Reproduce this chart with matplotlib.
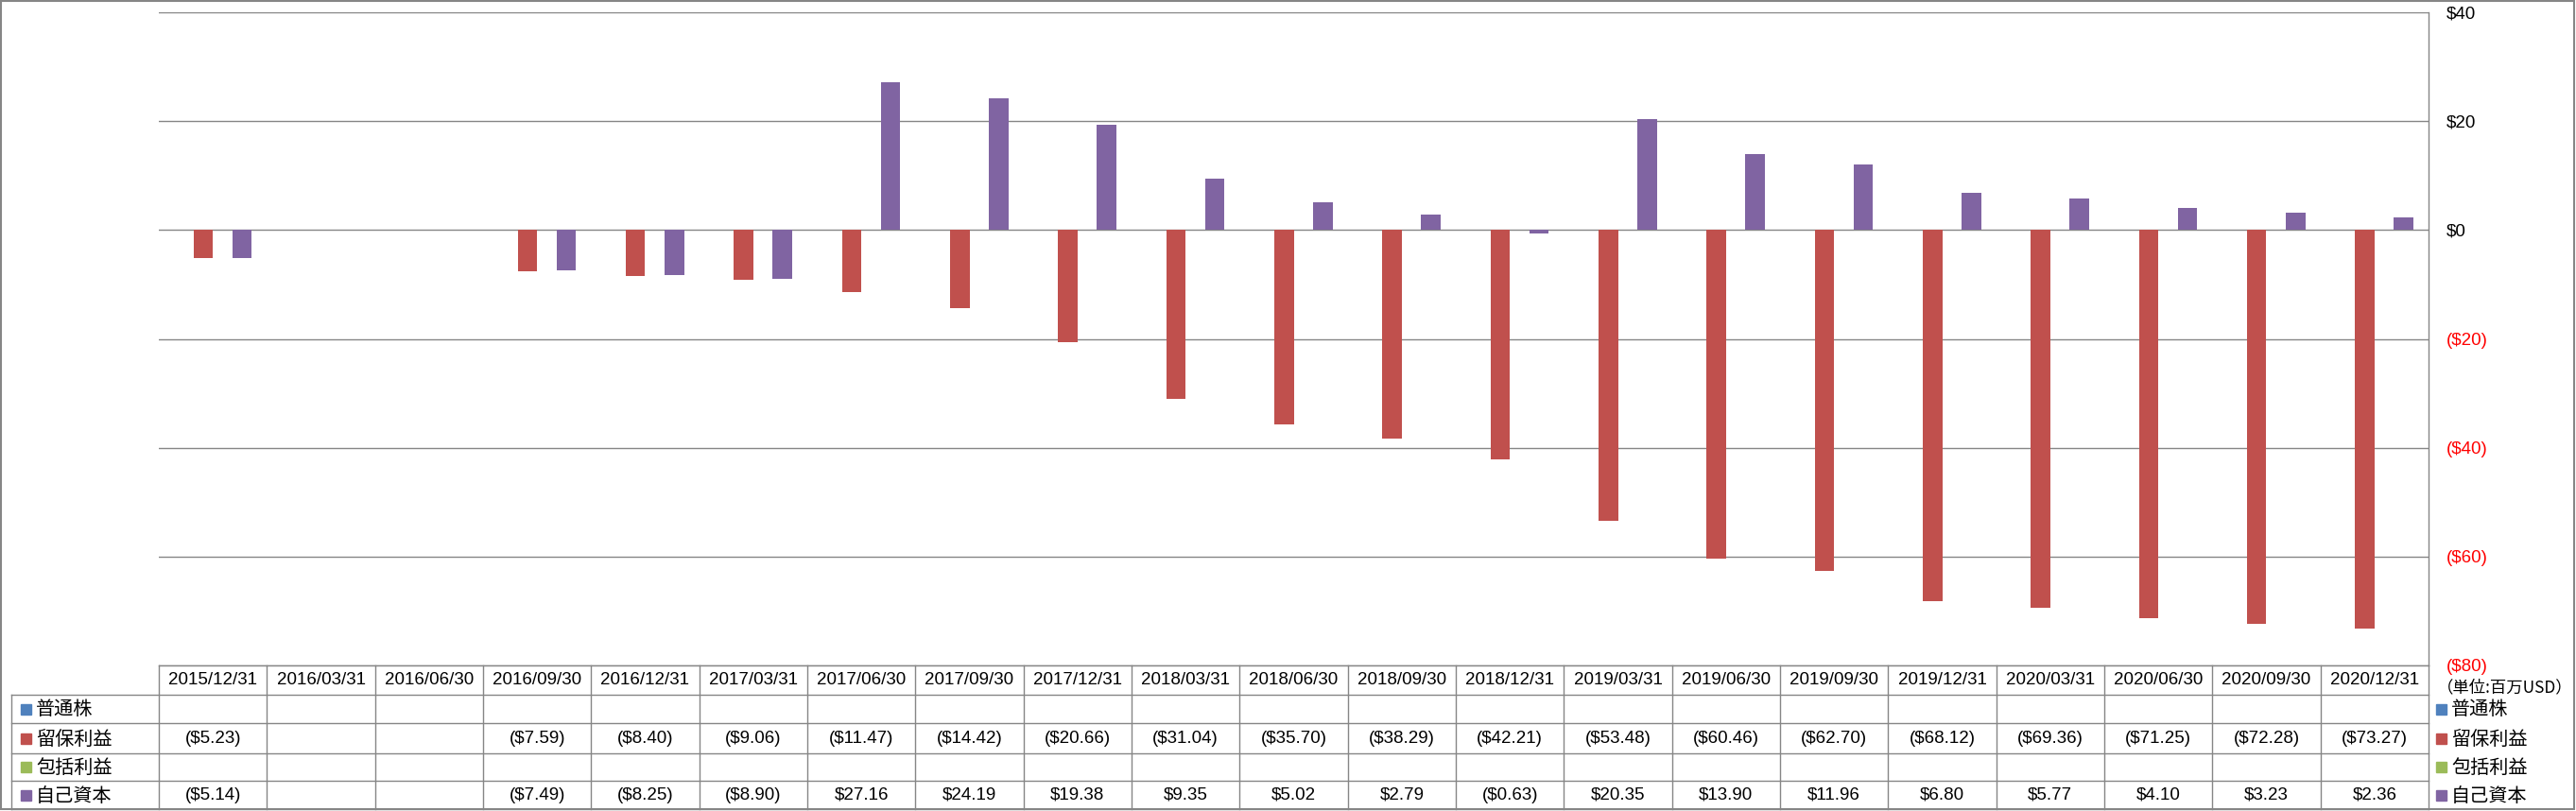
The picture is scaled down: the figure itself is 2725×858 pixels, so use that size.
import numpy as np
import matplotlib.pyplot as plt
from matplotlib.transforms import blended_transform_factory
from matplotlib.patches import Rectangle

# データ（単位: 百万USD）
dates = ["2015/12/31", "2016/03/31", "2016/06/30", "2016/09/30", "2016/12/31",
         "2017/03/31", "2017/06/30", "2017/09/30", "2017/12/31", "2018/03/31",
         "2018/06/30", "2018/09/30", "2018/12/31", "2019/03/31", "2019/06/30",
         "2019/09/30", "2019/12/31", "2020/03/31", "2020/06/30", "2020/09/30",
         "2020/12/31"]
nan = np.nan
common_stock = [nan] * 21
retained_earnings = [-5.23, nan, nan, -7.59, -8.40, -9.06, -11.47, -14.42, -20.66,
                     -31.04, -35.70, -38.29, -42.21, -53.48, -60.46, -62.70, -68.12,
                     -69.36, -71.25, -72.28, -73.27]
comprehensive_income = [nan] * 21
equity = [-5.14, nan, nan, -7.49, -8.25, -8.90, 27.16, 24.19, 19.38, 9.35, 5.02,
          2.79, -0.63, 20.35, 13.90, 11.96, 6.80, 5.77, 4.10, 3.23, 2.36]

series_names = ["普通株", "留保利益", "包括利益", "自己資本"]
series_values = [common_stock, retained_earnings, comprehensive_income, equity]
series_colors = ["#4F81BD", "#C0504D", "#9BBB59", "#8064A2"]
y_ticks = [-80, -60, -40, -20, 0, 20, 40]

NUM_FONT = ["Liberation Sans", "DejaVu Sans"]
CJK_FONT = ["Noto Sans CJK JP", "DejaVu Sans"]
GRAY = "#868686"


def money(v, digits=2):
    if np.isnan(v):
        return ""
    s = "${:,.{}f}".format(abs(v), digits)
    return "(" + s + ")" if v < 0 else s


# 図のサイズ（ピクセル単位で配置）
W, H = 2725, 858
fig = plt.figure(figsize=(W / 100, H / 100), dpi=100)
fig.patch.set_facecolor("white")

left_px, right_px, top_px, bottom_px = 168, 2569, 13, 704
ax = fig.add_axes([left_px / W, 1 - bottom_px / H,
                   (right_px - left_px) / W, (bottom_px - top_px) / H])

# 棒グラフ
x = np.arange(len(dates))
bar_w = 0.18
for k, (vals, col) in enumerate(zip(series_values, series_colors)):
    ax.bar(x + (k - 1.5) * bar_w, vals, width=bar_w, color=col, zorder=3)

ax.set_xlim(-0.5, len(dates) - 0.5)
ax.set_ylim(-80, 40)
ax.set_xticks([])
ax.yaxis.tick_right()
ax.set_yticks(y_ticks)
ax.set_yticklabels([money(t, 0) for t in y_ticks], family=NUM_FONT, fontsize=13.5)
for lab, t in zip(ax.get_yticklabels(), y_ticks):
    lab.set_color("red" if t < 0 else "black")
ax.tick_params(axis="y", length=0, pad=13.5)
ax.grid(axis="y", color=GRAY, linewidth=1.0)
ax.set_axisbelow(True)
for side in ["top", "left", "bottom"]:
    ax.spines[side].set_visible(False)
ax.spines["right"].set_color(GRAY)
ax.spines["right"].set_linewidth(1.0)

# 表・凡例用のオーバーレイ（ピクセル座標）
ov = fig.add_axes([0, 0, 1, 1], facecolor="none")
ov.set_xlim(0, W)
ov.set_ylim(H, 0)
ov.axis("off")
tr = blended_transform_factory(ax.transData, ov.transData)

row_edges = [704, 735, 765, 797, 826, 856]
legend_left = 12
lw_tab = 1.0

# 横線
ov.plot([left_px, right_px], [row_edges[0]] * 2, color=GRAY, lw=lw_tab)
for y in row_edges[1:]:
    ov.plot([legend_left, right_px], [y, y], color=GRAY, lw=lw_tab)
# 縦線
for b in np.arange(len(dates) + 1) - 0.5:
    ov.plot([b, b], [row_edges[0], row_edges[-1]], color=GRAY, lw=lw_tab, transform=tr)
ov.plot([legend_left, legend_left], [row_edges[1], row_edges[-1]], color=GRAY, lw=lw_tab)

# 見出し（日付）
hdr_y = (row_edges[0] + row_edges[1]) / 2
for i, d in enumerate(dates):
    ov.text(i, hdr_y, d, transform=tr, ha="center", va="center",
            family=NUM_FONT, fontsize=13.5)

# 各系列の行
for r, (name, vals, col) in enumerate(zip(series_names, series_values, series_colors)):
    yc = (row_edges[r + 1] + row_edges[r + 2]) / 2
    for i, v in enumerate(vals):
        ov.text(i, yc, money(v), transform=tr, ha="center", va="center",
                family=NUM_FONT, fontsize=13.5)
    # 表内の凡例
    ov.add_patch(Rectangle((22, yc - 5.5), 11, 11, color=col))
    ov.text(38, yc + 1, name, ha="left", va="center", family=CJK_FONT, fontsize=14.5)
    # 右側の凡例
    ov.add_patch(Rectangle((2577, yc - 5.5), 11, 11, color=col))
    ov.text(2593, yc + 1, name, ha="left", va="center", family=CJK_FONT, fontsize=14.5)

ov.text(2578, 727, "（単位:百万USD）", ha="left", va="center",
        family=CJK_FONT, fontsize=12.5)

# 外枠
ov.add_patch(Rectangle((1, 1), W - 3, H - 3, fill=False, edgecolor=GRAY, lw=1.5))

fig.savefig("out.png", dpi=100)
